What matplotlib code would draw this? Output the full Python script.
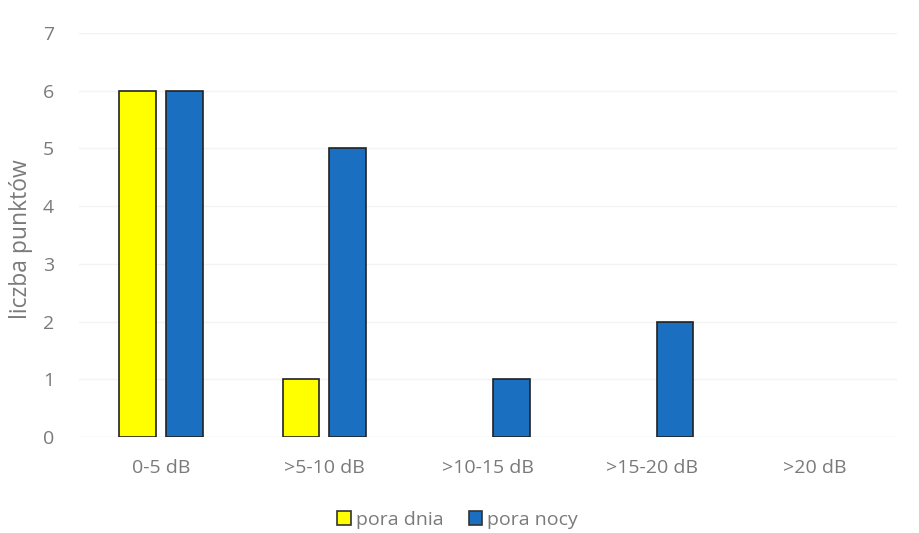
import matplotlib
matplotlib.use("Agg")
import matplotlib.pyplot as plt
import numpy as np
from matplotlib.patches import Patch

categories = ["0-5 dB", ">5-10 dB", ">10-15 dB", ">15-20 dB", ">20 dB"]
pora_dnia = [6, 1, 0, 0, 0]
pora_nocy = [6, 5, 1, 2, 0]
y_ticks = [0, 1, 2, 3, 4, 5, 6, 7]

plt.rcParams["font.family"] = ["Open Sans", "DejaVu Sans"]
text_color = "#7a7a7a"
yellow = "#ffff00"
blue = "#1b6fc1"
edge = "#222222"

fig = plt.figure(figsize=(9.19, 5.33), dpi=100)
ax = fig.add_axes([0.086, 0.18, 0.89, 0.758])

x = np.arange(len(categories))
w = 0.225
off = 0.143


def edges(values):
    # no outline for empty categories
    return [edge if v > 0 else "none" for v in values]


ax.bar(x - off, pora_dnia, width=w, color=yellow, edgecolor=edges(pora_dnia), linewidth=1.2, zorder=3)
ax.bar(x + off, pora_nocy, width=w, color=blue, edgecolor=edges(pora_nocy), linewidth=1.2, zorder=3)

ax.set_xlim(-0.5, len(categories) - 0.5)
ax.set_ylim(0, 7)
ax.set_yticks(y_ticks)
ax.set_xticks(x)
ax.set_xticklabels(categories)
ax.tick_params(axis="both", length=0, labelsize=14, colors=text_color)
ax.tick_params(axis="y", pad=18)
ax.tick_params(axis="x", pad=16)
ax.yaxis.grid(True, color="#f3f3f3", linewidth=1, zorder=0)
for s in ax.spines.values():
    s.set_visible(False)
ax.axhline(0, color="#ececec", linewidth=1, zorder=1)

ax.set_ylabel("liczba punktów", fontsize=16.5, color=text_color)
ax.yaxis.set_label_coords(-0.056, 0.49)

handles = [Patch(facecolor=yellow, edgecolor="#333333", linewidth=1.2),
           Patch(facecolor=blue, edgecolor="#333333", linewidth=1.2)]
leg = fig.legend(handles, ["pora dnia", "pora nocy"], loc="center",
                 bbox_to_anchor=(0.498, 0.025), ncol=2, frameon=False,
                 fontsize=14, handlelength=0.7, handleheight=0.7,
                 handletextpad=0.25, columnspacing=1.3)
for t in leg.get_texts():
    t.set_color(text_color)

fig.savefig("out.png", dpi=100, facecolor="white")
